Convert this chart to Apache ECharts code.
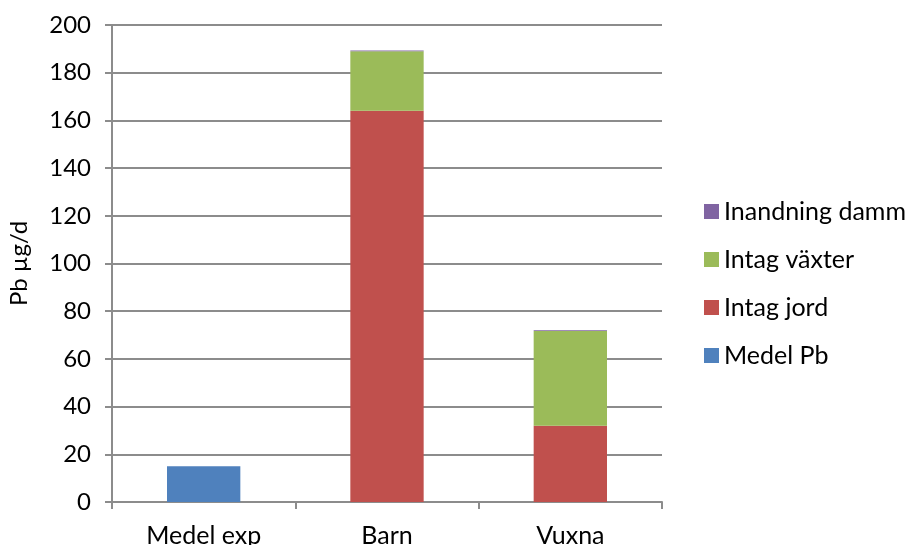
<!DOCTYPE html>
<html>
<head>
<meta charset="utf-8">
<script src="https://cdn.jsdelivr.net/npm/echarts@6/dist/echarts.min.js"></script>
<style>
  html, body { margin: 0; padding: 0; background: #fff; }
  #chart { width: 908px; height: 545px; }
</style>
</head>
<body>
<div id="chart"></div>
<script>
// Daily lead intake (µg/d) by pathway
const categories = ['Medel exp', 'Barn', 'Vuxna'];
const medelPb = [15, '-', '-'];
const intagJord = ['-', 164, 32];
const intagVaxter = ['-', 25, 39.7];
const inandningDamm = ['-', 0.3, 0.3];
const legendOrder = ['Inandning damm', 'Intag växter', 'Intag jord', 'Medel Pb'];

const FONT = 'Lato, "Open Sans", sans-serif';
const GRID_COLOR = '#8c8c8c';

const chart = echarts.init(document.getElementById('chart'), null, { renderer: 'canvas' });

function barSeries(name, data, color) {
  return {
    name: name,
    type: 'bar',
    stack: 'total',
    data: data,
    barWidth: '40%',
    itemStyle: { color: color },
    emphasis: { disabled: true }
  };
}

chart.setOption({
  animation: false,
  textStyle: { fontFamily: FONT },
  grid: {
    left: 112, top: 25, width: 550, height: 477,
    containLabel: false,
    outerBoundsMode: 'none'
  },
  legend: {
    orient: 'vertical',
    left: 699,
    top: 194,
    itemWidth: 15,
    itemHeight: 15,
    itemGap: 23,
    icon: 'rect',
    data: legendOrder,
    textStyle: { fontFamily: FONT, fontSize: 25, color: '#000' }
  },
  xAxis: {
    type: 'category',
    data: categories,
    axisLine: { lineStyle: { color: GRID_COLOR, width: 2 } },
    axisTick: { show: true, length: 7, lineStyle: { color: GRID_COLOR, width: 2 } },
    axisLabel: { fontFamily: FONT, fontSize: 25, color: '#000', margin: 21 }
  },
  yAxis: {
    type: 'value',
    min: 0,
    max: 200,
    interval: 20,
    name: 'Pb µg/d',
    nameLocation: 'middle',
    nameGap: 81,
    nameTextStyle: { fontFamily: FONT, fontSize: 24, color: '#000' },
    axisLine: { show: true, lineStyle: { color: GRID_COLOR, width: 2 } },
    axisTick: { show: true, length: 7, lineStyle: { color: GRID_COLOR, width: 2 } },
    axisLabel: { fontFamily: FONT, fontSize: 24, color: '#000', margin: 21 },
    splitLine: { lineStyle: { color: GRID_COLOR, width: 2 } }
  },
  series: [
    barSeries('Medel Pb', medelPb, '#4F81BD'),
    barSeries('Intag jord', intagJord, '#C0504D'),
    barSeries('Intag växter', intagVaxter, '#9BBB59'),
    barSeries('Inandning damm', inandningDamm, '#8064A2')
  ]
});
</script>
</body>
</html>
